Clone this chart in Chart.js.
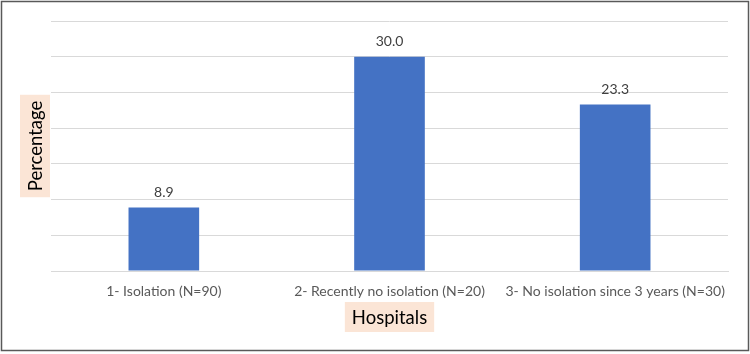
<!DOCTYPE html>
<html>
<head>
<meta charset="utf-8">
<script src="https://cdn.jsdelivr.net/npm/chart.js@4.4.0/dist/chart.umd.min.js"></script>
<style>
  body { margin: 0; background: #fff; }
  #wrap { width: 750px; height: 354px; position: relative; }
</style>
</head>
<body>
<div id="wrap"><canvas id="myChart" width="750" height="354"></canvas></div>
<script>
// data
const categories = ["1- Isolation (N=90)", "2- Recently no isolation (N=20)", "3- No isolation since 3 years (N=30)"];
const percentages = [8.9, 30.0, 23.3];
const yMax = 35;
const yStep = 5;
const xTitle = "Hospitals";
const yTitle = "Percentage";

const fontFamily = "Lato, 'Open Sans', sans-serif";

// value labels above bars, axis titles with shaded boxes, outer frame
const decorPlugin = {
  id: "decor",
  afterDatasetsDraw(chart) {
    const ctx = chart.ctx;
    const meta = chart.getDatasetMeta(0);
    ctx.save();
    ctx.fillStyle = "#404040";
    ctx.font = "14px " + fontFamily;
    ctx.textAlign = "center";
    ctx.textBaseline = "middle";
    meta.data.forEach((bar, i) => {
      ctx.fillText(percentages[i].toFixed(1), bar.x, bar.y - 15);
    });
    ctx.restore();
  },
  afterDraw(chart) {
    const ctx = chart.ctx;
    const area = chart.chartArea;
    ctx.save();
    ctx.font = "18.5px " + fontFamily;
    ctx.textAlign = "center";
    ctx.textBaseline = "middle";

    // x title
    const xc = (area.left + area.right) / 2;
    const xy = 317;
    const xw = ctx.measureText(xTitle).width + 14;
    ctx.fillStyle = "#FBE5D6";
    ctx.fillRect(xc - xw / 2, xy - 15, xw, 30);
    ctx.fillStyle = "#000";
    ctx.fillText(xTitle, xc, xy + 1);

    // y title
    const yc = (area.top + area.bottom) / 2;
    const yx = 35;
    const yw = ctx.measureText(yTitle).width + 12;
    ctx.fillStyle = "#FBE5D6";
    ctx.fillRect(yx - 15, yc - yw / 2, 30, yw);
    ctx.translate(yx + 1, yc);
    ctx.rotate(-Math.PI / 2);
    ctx.fillStyle = "#000";
    ctx.fillText(yTitle, 0, 0);
    ctx.restore();

    // frame
    ctx.save();
    ctx.strokeStyle = "#595959";
    ctx.lineWidth = 1.5;
    ctx.strokeRect(1.5, 1.5, 747, 349);
    ctx.restore();
  }
};

const ctx = document.getElementById("myChart").getContext("2d");

const chart = new Chart(ctx, {
  type: "bar",
  data: {
    labels: categories,
    datasets: [{
      data: percentages,
      backgroundColor: "#4472C4",
      borderWidth: 0,
      categoryPercentage: 1,
      barPercentage: 0.313
    }]
  },
  options: {
    responsive: false,
    animation: false,
    layout: {
      padding: { left: 51, right: 22, top: 21, bottom: 0 }
    },
    plugins: {
      legend: { display: false },
      tooltip: { enabled: false }
    },
    scales: {
      x: {
        grid: { display: false, drawTicks: false },
        border: { display: true, color: "#D9D9D9", width: 1 },
        ticks: {
          color: "#595959",
          font: { family: fontFamily, size: 14 },
          padding: 12,
          maxRotation: 0
        },
        afterFit(scale) { scale.height = 83; }
      },
      y: {
        min: 0,
        max: yMax,
        ticks: { display: false, stepSize: yStep },
        grid: { color: "#D9D9D9", lineWidth: 1, drawTicks: false },
        border: { display: false },
        afterFit(scale) { scale.width = 0; }
      }
    }
  },
  plugins: [decorPlugin]
});
</script>
</body>
</html>
